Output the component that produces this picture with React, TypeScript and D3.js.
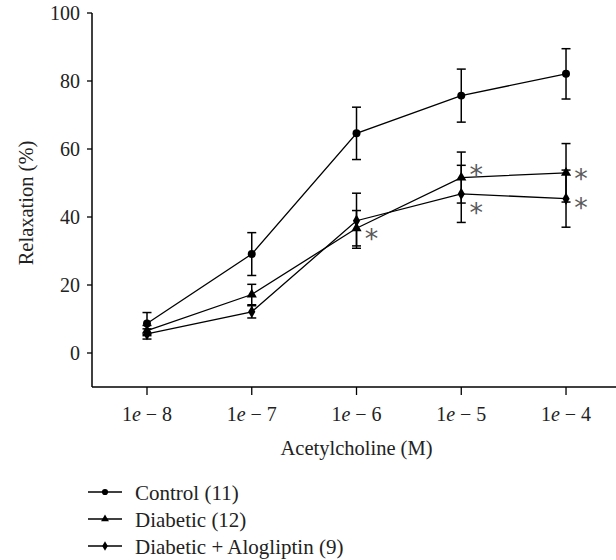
import React from "react";
import * as d3 from "d3";

const concentrations = [1e-8, 1e-7, 1e-6, 1e-5, 1e-4];
const tickLabels = ["8", "7", "6", "5", "4"];
const yTicks = [0, 20, 40, 60, 80, 100];

const controlMean = [8.7, 29.1, 64.6, 75.7, 82.1];
const controlErr = [3.2, 6.3, 7.7, 7.8, 7.4];
const diabeticMean = [6.6, 17.2, 36.7, 51.6, 53.0];
const diabeticErr = [1.5, 3.0, 5.2, 7.5, 8.6];
const alogMean = [5.6, 12.1, 38.9, 46.8, 45.4];
const alogErr = [1.5, 1.8, 8.1, 8.4, 8.4];

const seriesNames = ["Control (11)", "Diabetic (12)", "Diabetic + Alogliptin (9)"];
const seriesMarkers = ["circle", "triangle", "diamond"];

const asteriskConc = [1e-6, 1e-5, 1e-5, 1e-4, 1e-4];
const asteriskY = [35.2, 54.1, 43.0, 53.0, 44.5];

const W = 616;
const H = 560;
const FONT = "'Liberation Serif', 'Times New Roman', serif";

const x = d3.scaleLog().domain([Math.pow(10, -8.525), Math.pow(10, -3.5)]).range([92, 618.4]);
const y = d3.scaleLinear().domain([-10, 100]).range([387, 13]);

const series = [
  { name: seriesNames[0], marker: seriesMarkers[0], mean: controlMean, err: controlErr },
  { name: seriesNames[1], marker: seriesMarkers[1], mean: diabeticMean, err: diabeticErr },
  { name: seriesNames[2], marker: seriesMarkers[2], mean: alogMean, err: alogErr },
];

const symbolPath = (kind: string, size: number) => {
  if (kind === "circle") return d3.symbol(d3.symbolCircle, size)()!;
  if (kind === "triangle") return d3.symbol(d3.symbolTriangle, size * 0.9)()!;
  return d3.symbol(d3.symbolDiamond, size * 0.9)()!;
};

export default function App() {
  const line = d3
    .line<number>()
    .x((_, i) => x(concentrations[i]))
    .y((d) => y(d));

  return (
    <svg
      width={W}
      height={H}
      style={{ position: "absolute", left: 0, top: 0, background: "#fff" }}
      fontFamily={FONT}
    >
      {/* axes */}
      <line x1={92} x2={92} y1={y(100)} y2={y(-10)} stroke="#000" strokeWidth={1.5} />
      <line x1={92} x2={W} y1={y(-10)} y2={y(-10)} stroke="#000" strokeWidth={1.5} />
      {yTicks.map((t) => (
        <g key={"yt" + t}>
          <line x1={87} x2={92} y1={y(t)} y2={y(t)} stroke="#000" strokeWidth={1.3} />
          <text x={80} y={y(t) + 7} textAnchor="end" fontSize={20} fill="#222">
            {t}
          </text>
        </g>
      ))}
      {concentrations.map((c, i) => (
        <g key={"xt" + i}>
          <line x1={x(c)} x2={x(c)} y1={y(-10)} y2={y(-10) + 8} stroke="#000" strokeWidth={1.3} />
          <text x={x(c)} y={421} textAnchor="middle" fontSize={20} fill="#222">
            1<tspan fontStyle="italic">e</tspan> − {tickLabels[i]}
          </text>
        </g>
      ))}
      <text x={x(1e-6)} y={455} textAnchor="middle" fontSize={20.5} fill="#222">
        Acetylcholine (M)
      </text>
      <text
        transform={`translate(33, ${203}) rotate(-90)`}
        textAnchor="middle"
        fontSize={20.5}
        fill="#222"
      >
        Relaxation (%)
      </text>

      {/* series */}
      {series.map((s) => (
        <g key={s.name}>
          <path d={line(s.mean)!} fill="none" stroke="#000" strokeWidth={1.3} />
          {s.mean.map((m, i) => {
            const cx = x(concentrations[i]);
            const top = y(m + s.err[i]);
            const bot = y(m - s.err[i]);
            return (
              <g key={i} stroke="#000" strokeWidth={1.5}>
                <line x1={cx} x2={cx} y1={top} y2={bot} />
                <line x1={cx - 4.5} x2={cx + 4.5} y1={top} y2={top} />
                <line x1={cx - 4.5} x2={cx + 4.5} y1={bot} y2={bot} />
              </g>
            );
          })}
          {s.mean.map((m, i) => (
            <path
              key={"m" + i}
              d={symbolPath(s.marker, 50)}
              transform={`translate(${x(concentrations[i])},${y(m)})`}
              fill="#000"
            />
          ))}
        </g>
      ))}

      {/* significance asterisks */}
      {asteriskConc.map((c, i) => (
        <text
          key={"a" + i}
          x={x(c) + 15}
          y={y(asteriskY[i]) + 15}
          textAnchor="middle"
          fontSize={27}
          fontFamily="'DejaVu Sans', sans-serif"
          fill="#5a5a5a"
        >
          *
        </text>
      ))}

      {/* legend */}
      {series.map((s, i) => {
        const ly = 492 + i * 27;
        return (
          <g key={"lg" + i}>
            <line x1={88} x2={122} y1={ly} y2={ly} stroke="#000" strokeWidth={1.5} />
            <path d={symbolPath(s.marker, 30)} transform={`translate(105,${ly})`} fill="#000" />
            <text x={135} y={ly + 8} fontSize={21} fill="#222">
              {s.name}
            </text>
          </g>
        );
      })}
    </svg>
  );
}
